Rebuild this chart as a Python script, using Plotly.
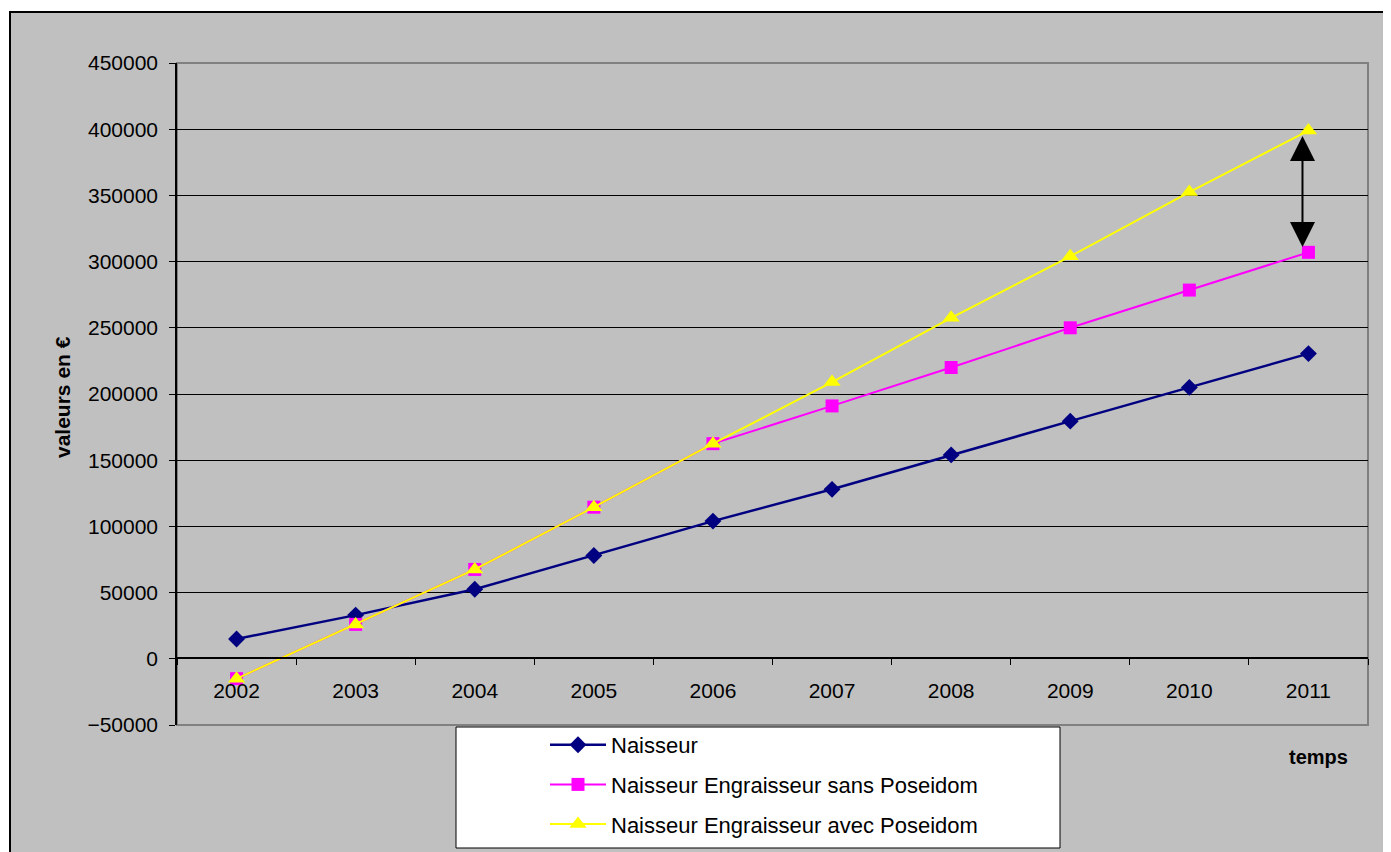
import plotly.graph_objects as go

years = ["2002", "2003", "2004", "2005", "2006", "2007", "2008", "2009", "2010", "2011"]
naisseur = [15000, 33000, 52500, 78000, 104000, 128000, 154000, 179500, 205000, 230500]
sans_poseidom = [-15000, 26000, 67500, 114500, 162500, 191000, 220000, 250000, 278500, 307000]
avec_poseidom = [-15000, 26000, 67500, 114500, 162500, 209000, 257500, 304000, 352500, 399000]
series_names = ["Naisseur", "Naisseur Engraisseur sans Poseidom", "Naisseur Engraisseur avec Poseidom"]

OFF = 8  # default page body margin
W, H = 1391 - OFF, 852 - OFF
L, R, T, B = 177 - OFF, 1368 - OFF, 63 - OFF, 725 - OFF
pw, ph = R - L, B - T

def px(xp):
    return (xp - OFF - L) / pw

def py(yp):
    return (B - (yp - OFF)) / ph

FONT = "Liberation Sans, Arial, sans-serif"
FS = 21

fig = go.Figure()
fig.add_trace(go.Scatter(x=years, y=naisseur, name=series_names[0], mode="lines+markers",
                         line=dict(color="#000080", width=2.5),
                         marker=dict(symbol="diamond", size=13, color="#000080"),
                         legendgroup="a"))
fig.add_trace(go.Scatter(x=years, y=sans_poseidom, name=series_names[1], mode="lines+markers",
                         line=dict(color="#FF00FF", width=2),
                         marker=dict(symbol="square", size=13, color="#FF00FF"),
                         legendgroup="b"))
fig.add_trace(go.Scatter(x=years, y=avec_poseidom, name=series_names[2], mode="lines+markers",
                         line=dict(color="#FFFF00", width=2),
                         marker=dict(symbol="triangle-up", size=15, color="#FFFF00"),
                         legendgroup="c"))

shapes = [
    # outer chart area
    dict(type="rect", xref="paper", yref="paper", layer="below",
         x0=px(10), x1=px(1391 + 20), y0=py(852 + 20), y1=py(12),
         fillcolor="#C0C0C0", line=dict(color="black", width=2)),
    # plot area border
    dict(type="rect", xref="paper", yref="paper", layer="below",
         x0=0, x1=1, y0=0, y1=1, line=dict(color="#808080", width=2)),
    # legend box
    dict(type="rect", xref="paper", yref="paper", layer="above",
         x0=px(456), x1=px(1060), y0=py(848), y1=py(727),
         fillcolor="white", line=dict(color="black", width=1)),
]

annotations = [
    dict(x=8.95, y=311000, ax=8.95, ay=396000, xref="x", yref="y", axref="x", ayref="y",
         showarrow=True, arrowside="end+start", arrowhead=2, startarrowhead=2,
         arrowsize=2.5, startarrowsize=2.5, arrowwidth=2, arrowcolor="black", text=""),
    dict(x=px(1318), y=py(757), xref="paper", yref="paper", text="<b>temps</b>",
         xanchor="center", yanchor="middle",
         showarrow=False, font=dict(family=FONT, size=20, color="black")),
    dict(x=px(62), y=py(397), xref="paper", yref="paper", text="<b>valeurs en €</b>",
         xanchor="center", yanchor="middle",
         textangle=-90, showarrow=False, font=dict(family=FONT, size=FS, color="black")),
]

fig.update_layout(
    width=W, height=H,
    margin=dict(l=L, r=W - R, t=T, b=H - B, autoexpand=False),
    paper_bgcolor="white", plot_bgcolor="rgba(0,0,0,0)",
    font=dict(family=FONT, size=FS, color="black"),
    shapes=shapes, annotations=annotations,
    showlegend=True,
    legend=dict(x=px(545), y=py(845), xanchor="left", yanchor="bottom",
                bgcolor="rgba(0,0,0,0)", borderwidth=0,
                font=dict(family=FONT, size=22, color="black"),
                traceorder="grouped", tracegroupgap=8, itemwidth=56),
    xaxis=dict(type="category", anchor="free", position=py(658),
               showline=True, linecolor="black", linewidth=1.5,
               ticks="outside", tickson="boundaries", ticklen=6, tickcolor="black",
               showgrid=False, zeroline=False, ticklabelstandoff=14,
               range=[-0.5, 9.5]),
    yaxis=dict(range=[-50000, 450000], dtick=50000, tickformat="d",
               showline=True, linecolor="black", linewidth=1.5,
               ticks="outside", ticklen=6, tickcolor="black", ticklabelstandoff=7,
               showgrid=True, gridcolor="black", gridwidth=1, zeroline=False),
)

fig.write_html("out.html")
